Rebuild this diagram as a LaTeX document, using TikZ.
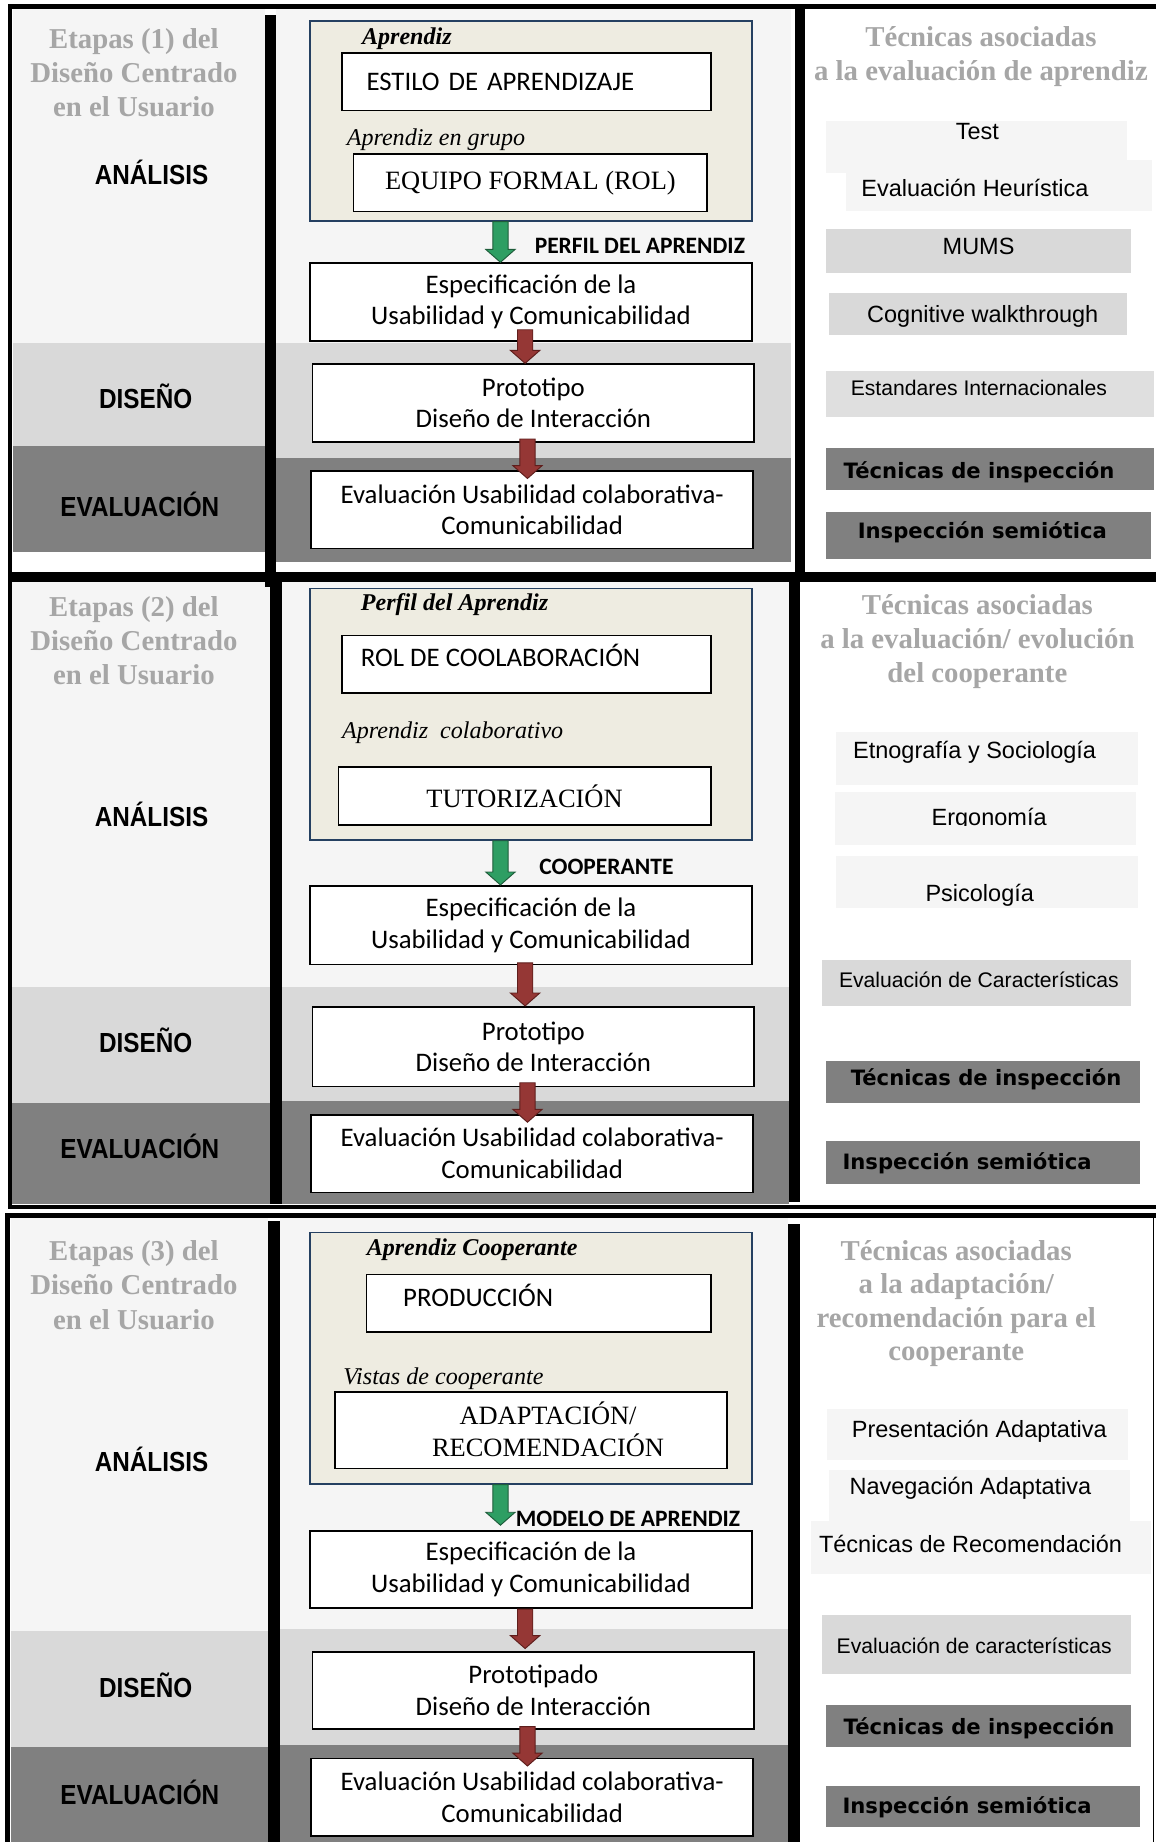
\documentclass[tikz,border=0pt]{standalone}
\usepackage{fontspec}
\setmainfont{Liberation Serif}
\newfontfamily\calibri{Carlito}
\newfontfamily\arialfont{Liberation Sans}
\newfontfamily\narrowfont[FakeStretch=0.88]{Liberation Sans}
\newfontfamily\verdanafont{DejaVu Sans}
\usetikzlibrary{calc}
\definecolor{BandLight}{HTML}{F5F5F5}
\definecolor{BandMid}{HTML}{D9D9D9}
\definecolor{BandDark}{HTML}{808080}
\definecolor{Beige}{HTML}{EEECE1}
\definecolor{BoxBlue}{HTML}{254061}
\definecolor{TitleGray}{HTML}{A6A6A6}
\definecolor{ArrGreen}{HTML}{2E9E63}
\definecolor{ArrGreenD}{HTML}{1E5C3A}
\definecolor{ArrRed}{HTML}{953735}
\definecolor{ArrRedD}{HTML}{5E1E1C}

\newcommand{\blockarrow}[3]{%
  \filldraw[#1] let \p1=(#2), \p2=(#3) in
    (\x1-6.5pt,\y1) -- (\x1+6.5pt,\y1) -- (\x1+6.5pt,\y2+11pt) -- (\x1+12.5pt,\y2+11pt)
    -- (\x1,\y2) -- (\x1-12.5pt,\y2+11pt) -- (\x1-6.5pt,\y2+11pt) -- cycle;}

\begin{document}
\begin{tikzpicture}[
    x=1pt, y=-1pt,
    frame/.style={line width=4pt, draw=black},
    box/.style={draw=black, fill=white, line width=1.4pt, inner sep=0pt, align=center, font=\calibri\fontsize{22.8}{27}\selectfont},
    serifbox/.style={box, font=\fontsize{22.5}{27}\selectfont},
    container/.style={draw=BoxBlue, fill=Beige, line width=1.4pt, inner sep=0pt},
    stage/.style={font=\narrowfont\bfseries\fontsize{23.5}{27}\selectfont},
    heading/.style={text=TitleGray, align=center, font=\bfseries\fontsize{24.5}{29}\selectfont},
    role/.style={anchor=west, inner sep=0pt, font=\bfseries\itshape\fontsize{20.5}{24}\selectfont},
    grouplbl/.style={anchor=west, inner sep=0pt, font=\itshape\fontsize{20.5}{24}\selectfont},
    boxtext/.style={anchor=west, inner sep=0pt, font=\calibri\fontsize{22.8}{27}\selectfont},
    flowlbl/.style={anchor=west, inner sep=0pt, font=\calibri\bfseries\fontsize{20}{24}\selectfont},
    item/.style={inner sep=0pt, font=\arialfont\fontsize{20}{24}\selectfont},
    smallitem/.style={item, font=\arialfont\fontsize{18}{22}\selectfont},
    insp/.style={anchor=west, inner sep=0pt, font=\verdanafont\bfseries\fontsize{18}{22}\selectfont},
    greenarr/.style={fill=ArrGreen, draw=ArrGreenD, line width=0.8pt},
    redarr/.style={fill=ArrRed, draw=ArrRedD, line width=0.8pt}
]
\useasboundingbox (0,0) rectangle (984,1568);
\fill[white] (0,0) rectangle (984,1568);

\fill[BandLight] (11,8) rectangle (226,292);
\fill[BandMid] (11,292) rectangle (226,380);
\fill[BandDark] (11,380) rectangle (226,470);
\fill[BandLight] (235,8) rectangle (673,292);
\fill[BandMid] (235,292) rectangle (673,390);
\fill[BandDark] (235,390) rectangle (673,478);

\fill[BandLight] (9,495) rectangle (230,840);
\fill[BandMid] (9,840) rectangle (230,939);
\fill[BandDark] (9,939) rectangle (230,1025);
\fill[BandLight] (240,495) rectangle (672,840);
\fill[BandMid] (240,840) rectangle (672,937);
\fill[BandDark] (240,937) rectangle (672,1025);

\fill[BandLight] (9,1037) rectangle (228,1388);
\fill[BandMid] (9,1388) rectangle (228,1487);
\fill[BandDark] (9,1487) rectangle (228,1568);
\fill[BandLight] (238,1037) rectangle (671,1387);
\fill[BandMid] (238,1387) rectangle (671,1485);
\fill[BandDark] (238,1485) rectangle (671,1568);

\fill (226,13) rectangle (235,500);
\fill (677,5) rectangle (685,490);
\fill (230,493) rectangle (240,1025);
\fill (672,491) rectangle (681,1023);
\fill (228,1039) rectangle (238,1568);
\fill (671,1042) rectangle (681,1568);

\draw[frame] (8.5,5.5) rectangle (1000,489);
\draw[frame] (8.5,493) rectangle (1000,1027.5);
\draw[frame] (6.5,1600) -- (6.5,1034.5) -- (1000,1034.5);
\draw[line width=1pt] (982,1036) -- (982,1600);

\node[heading] (etapa1) at (114,62) {Etapas (1) del\\Diseño Centrado\\en el Usuario};
\node[stage] (ana1) at (129,147) {ANÁLISIS};
\node[stage] (dis1) at (124,337) {DISEÑO};
\node[stage] (ev1) at (119,429) {EVALUACIÓN};

\node[container, minimum width=376pt, minimum height=170pt] (cont1) at (452,103) {};
\node[role] (rol1) at (308,33) {Aprendiz};
\node[box, minimum width=314pt, minimum height=49pt, inner xsep=21pt, text width=272pt, align=left] (estilo1) at (448,69.5) {ESTILO DE APRENDIZAJE};
\node[grouplbl] (grupo1) at (295,119) {Aprendiz en grupo};
\node[serifbox, minimum width=301pt, minimum height=49pt] (equipo1) at (451.5,155.5) {EQUIPO FORMAL (ROL)};
\node[flowlbl] (perfil1) at (455,209) {PERFIL DEL APRENDIZ};
\node[box, minimum width=376pt, minimum height=66pt] (spec1) at (452,257) {Especificación de la\\Usabilidad y Comunicabilidad};
\node[box, minimum width=376pt, minimum height=66pt] (proto1) at (454,343) {Prototipo\\Diseño de Interacción};
\node[box, minimum width=376pt, minimum height=66pt] (eval1) at (453,434) {Evaluación Usabilidad colaborativa-\\Comunicabilidad};
\blockarrow{greenarr}{[xshift=-26pt]cont1.south}{spec1.north}
\blockarrow{redarr}{[xshift=-5pt,yshift=10pt]spec1.south}{proto1.north}
\blockarrow{redarr}{[xshift=-5pt,yshift=3pt]proto1.south}{[yshift=-7pt]eval1.north}

\node[heading] (tec1) at (835,48.5) {Técnicas asociadas\\a la evaluación de aprendiz};
\fill[BandLight] (703,103) rectangle (959,147);
\node[item] (test1) at (832,112) {Test};
\fill[BandLight] (720,136) rectangle (981,180);
\node[item, anchor=west] (heur1) at (733,160) {Evaluación Heurística};
\fill[BandMid] (703,195) rectangle (963,232);
\node[item] (mums1) at (833,210) {MUMS};
\fill[BandMid] (706,249) rectangle (959,285);
\node[item, anchor=west] (cogn1) at (738,269) {Cognitive walkthrough};
\fill[BandMid!85!white] (703,316) rectangle (982,355);
\node[smallitem, anchor=west] (std1) at (724,330) {Estandares Internacionales};
\fill[BandDark] (703,381) rectangle (982,417);
\node[insp] (insp1) at (718,402) {Técnicas de inspección};
\fill[BandDark] (703,436) rectangle (980,476);
\node[insp] (semio1) at (730,453) {Inspección semiótica};

\node[heading] (etapa2) at (114,545.5) {Etapas (2) del\\Diseño Centrado\\en el Usuario};
\node[stage] (ana2) at (129,693.5) {ANÁLISIS};
\node[stage] (dis2) at (124,886) {DISEÑO};
\node[stage] (ev2) at (119,976) {EVALUACIÓN};

\node[container, minimum width=376pt, minimum height=214pt] (cont2) at (452,608) {};
\node[role] (rol2) at (307,515) {Perfil del Aprendiz};
\node[box, minimum width=314pt, minimum height=49pt] (colab2) at (448,565.5) {};
\node[boxtext] (colabt2) at (307,558) {ROL DE COOLABORACIÓN};
\node[grouplbl] (grupo2) at (291,624) {Aprendiz\ \ colaborativo};
\node[serifbox, minimum width=317pt, minimum height=49pt] (tutor2) at (446.5,677.5) {TUTORIZACIÓN};
\node[flowlbl] (coop2) at (459,738) {COOPERANTE};
\node[box, minimum width=376pt, minimum height=67pt] (spec2) at (452,787.5) {Especificación de la\\Usabilidad y Comunicabilidad};
\node[box, minimum width=376pt, minimum height=68pt] (proto2) at (454,891) {Prototipo\\Diseño de Interacción};
\node[box, minimum width=376pt, minimum height=66pt] (eval2) at (453,982) {Evaluación Usabilidad colaborativa-\\Comunicabilidad};
\blockarrow{greenarr}{[xshift=-26pt]cont2.south}{spec2.north}
\blockarrow{redarr}{[xshift=-5pt,yshift=2pt]spec2.south}{proto2.north}
\blockarrow{redarr}{[xshift=-5pt,yshift=4pt]proto2.south}{[yshift=-7pt]eval2.north}

\node[heading] (tec2) at (832,546) {Técnicas asociadas\\a la evaluación/ evolución\\del cooperante};
\fill[BandLight] (712,623) rectangle (969,668);
\node[item, anchor=west] (etno2) at (726,640) {Etnografía y Sociología};
\fill[BandLight] (711,674) rectangle (967,719);
\begin{scope}
\clip (711,674) rectangle (967,703);
\node[item, anchor=base] (ergo2) at (842,703) {Ergonomía};
\end{scope}
\fill[BandLight] (712,729) rectangle (969,773);
\node[item] (psico2) at (834,762) {Psicología};
\fill[BandMid] (700,817) rectangle (963,856);
\node[smallitem, anchor=west] (carac2) at (714,834) {Evaluación de Características};
\fill[BandDark] (703,903) rectangle (970,939);
\node[insp] (insp2) at (724,919) {Técnicas de inspección};
\fill[BandDark] (703,971) rectangle (970,1008);
\node[insp] (semio2) at (717,990) {Inspección semiótica};

\node[heading] (etapa3) at (114,1094) {Etapas (3) del\\Diseño Centrado\\en el Usuario};
\node[stage] (ana3) at (129,1242) {ANÁLISIS};
\node[stage] (dis3) at (124,1434.5) {DISEÑO};
\node[stage] (ev3) at (119,1526) {EVALUACIÓN};

\node[container, minimum width=376pt, minimum height=214pt] (cont3) at (452,1156) {};
\node[role] (rol3) at (312,1064) {Aprendiz Cooperante};
\node[box, minimum width=293pt, minimum height=49pt] (prod3) at (458.5,1109.5) {};
\node[boxtext] (prodt3) at (343,1103) {PRODUCCIÓN};
\node[grouplbl] (vistas3) at (292,1174) {Vistas de cooperante};
\node[serifbox, minimum width=334pt, minimum height=65pt] (adapt3) at (452,1217.5) {};
\node[align=center, inner sep=0pt, font=\fontsize{22.5}{27}\selectfont] (adaptt3) at (466.5,1216.5) {ADAPTACIÓN/\\RECOMENDACIÓN};
\node[flowlbl] (modelo3) at (439,1293) {MODELO DE APRENDIZ};
\node[box, minimum width=376pt, minimum height=66pt] (spec3) at (452,1336) {Especificación de la\\Usabilidad y Comunicabilidad};
\node[box, minimum width=376pt, minimum height=66pt] (proto3) at (454,1439) {Prototipado\\Diseño de Interacción};
\node[box, minimum width=376pt, minimum height=66pt] (eval3) at (453,1530) {Evaluación Usabilidad colaborativa-\\Comunicabilidad};
\blockarrow{greenarr}{[xshift=-26pt]cont3.south}{[yshift=4pt]spec3.north}
\blockarrow{redarr}{[xshift=-5pt]spec3.south}{[yshift=2pt]proto3.north}
\blockarrow{redarr}{[xshift=-5pt,yshift=3pt]proto3.south}{[yshift=-7pt]eval3.north}

\node[heading, font=\bfseries\fontsize{24.5}{28.5}\selectfont] (tec3) at (814,1109.5) {Técnicas asociadas\\a la adaptación/\\recomendación para el\\cooperante};
\fill[BandLight] (704,1199) rectangle (960,1243);
\node[item, anchor=west] (pres3) at (725,1218) {Presentación Adaptativa};
\fill[BandLight] (706,1251) rectangle (962,1295);
\node[item, anchor=west] (nav3) at (723,1267) {Navegación Adaptativa};
\fill[BandLight] (690,1295) rectangle (980,1340);
\node[item, anchor=west] (recom3) at (697,1314) {Técnicas de Recomendación};
\fill[BandMid] (700,1375) rectangle (963,1425);
\node[smallitem, anchor=west] (carac3) at (712,1401) {Evaluación de características};
\fill[BandDark] (703,1451) rectangle (963,1487);
\node[insp] (insp3) at (718,1471) {Técnicas de inspección};
\fill[BandDark] (703,1520) rectangle (970,1555);
\node[insp] (semio3) at (717,1538) {Inspección semiótica};
\end{tikzpicture}
\end{document}
